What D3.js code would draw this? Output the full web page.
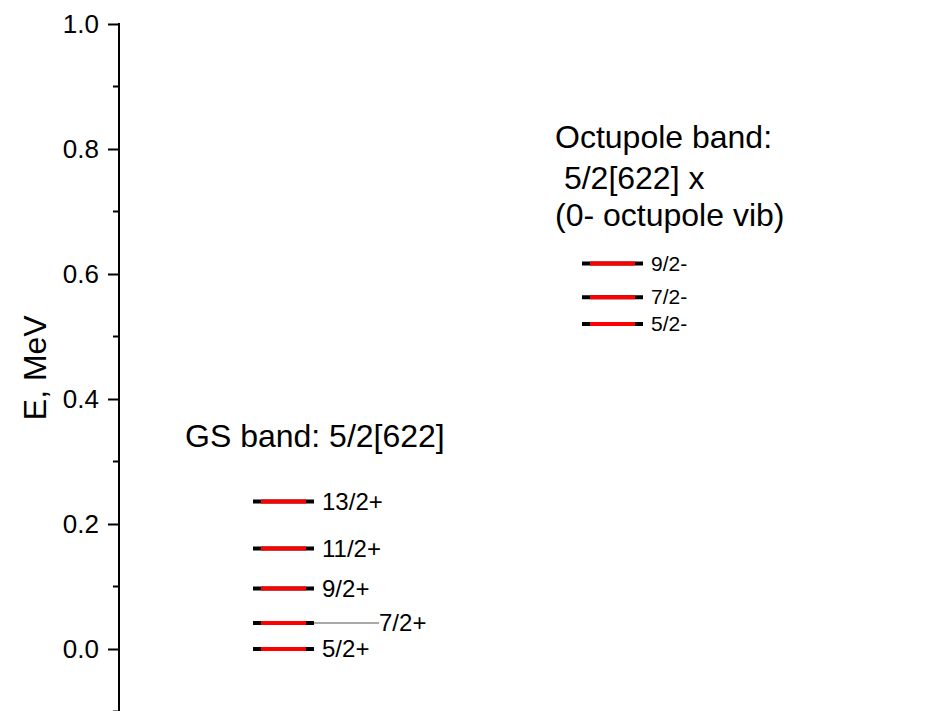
<!DOCTYPE html>
<html>
<head>
<meta charset="utf-8">
<script src="https://cdn.jsdelivr.net/npm/d3@7/dist/d3.min.js"></script>
<style>
  html, body { margin: 0; padding: 0; background: #fff; }
  svg { display: block; }
  text { font-family: "Liberation Sans", Arial, sans-serif; fill: #000; }
</style>
</head>
<body>
<svg id="chart" width="932" height="711"></svg>
<script>
// ---- data ----
const gsLabels = ["5/2+", "7/2+", "9/2+", "11/2+", "13/2+"];
const gsEnergies = [0.0, 0.0416, 0.097, 0.161, 0.236];
const octLabels = ["5/2-", "7/2-", "9/2-"];
const octEnergies = [0.52, 0.563, 0.617];
const bandNames = ["GS", "Octupole"];
const bandPositions = [1, 2.5];
const yTicks = [0.0, 0.2, 0.4, 0.6, 0.8, 1.0];
const yMinorTicks = [-0.1, 0.1, 0.3, 0.5, 0.7, 0.9];
const gsTitle = ["GS band: 5/2[622]"];
const octTitle = ["Octupole band:", "\u00a05/2[622] x", "(0- octupole vib)"];
const yTitle = "E, MeV";

// ---- scales ----
const svg = d3.select("#chart");
const y = d3.scaleLinear().domain([-0.1, 1.0]).range([711.5, 24]);
const x = d3.scaleLinear().domain([0, 4]).range([64.2, 941.5]);
const axisX = 119;

// ---- axis ----
const axis = d3.axisLeft(y).tickValues(yTicks).tickFormat(d3.format(".1f"))
  .tickSizeInner(11).tickSizeOuter(0).tickPadding(9);
const gAxis = svg.append("g").attr("transform", `translate(${axisX},0)`).call(axis);
gAxis.select(".domain").remove();
gAxis.append("line").attr("x1", 0).attr("x2", 0).attr("y1", y(1.0) - 1).attr("y2", 711)
  .attr("stroke", "#000").attr("stroke-width", 2);
gAxis.selectAll(".tick line").attr("stroke", "#000").attr("stroke-width", 2);
gAxis.selectAll(".tick text").attr("font-size", 26)
  .style("font-family", "'Liberation Sans', Arial, sans-serif").attr("fill", "#000");
gAxis.selectAll(".minor").data(yMinorTicks).enter().append("line")
  .attr("class", "minor")
  .attr("x1", -6).attr("x2", 0).attr("y1", d => y(d)).attr("y2", d => y(d))
  .attr("stroke", "#000").attr("stroke-width", 2);

svg.append("text")
  .attr("transform", `translate(46,${(y(0.4)+y(0.5))/2})rotate(-90)`)
  .attr("text-anchor", "middle").attr("font-size", 32).text(yTitle);

// ---- levels ----
const halfW = 30.5, capW = 8;
function drawBand(labels, energies, bx, cls) {
  const cx = x(bx);
  const g = svg.append("g").attr("class", cls);
  const lv = g.selectAll("g.level").data(energies.map((e, i) => ({e, l: labels[i]})))
    .enter().append("g").attr("class", "level");
  lv.append("line").attr("x1", cx - halfW).attr("x2", cx + halfW)
    .attr("y1", d => y(d.e)).attr("y2", d => y(d.e))
    .attr("stroke", "#000").attr("stroke-width", 4);
  lv.append("line").attr("x1", cx - halfW + capW).attr("x2", cx + halfW - capW)
    .attr("y1", d => y(d.e)).attr("y2", d => y(d.e))
    .attr("stroke", "#ff0000").attr("stroke-width", 4);
  return {g, lv, cx};
}

const gs = drawBand(gsLabels, gsEnergies, bandPositions[0], "gs");
gs.lv.each(function(d) {
  const sel = d3.select(this);
  let lx = gs.cx + halfW + 8;
  if (d.l === "7/2+") {
    sel.append("line").attr("x1", gs.cx + halfW).attr("x2", gs.cx + halfW + 65)
      .attr("y1", y(d.e)).attr("y2", y(d.e)).attr("stroke", "#555").attr("stroke-width", 1);
    lx = gs.cx + halfW + 65;
  }
  sel.append("text").attr("x", lx).attr("y", y(d.e)).attr("dy", "0.35em")
    .attr("font-size", 24).text(d.l);
});

const oct = drawBand(octLabels, octEnergies, bandPositions[1], "oct");
oct.lv.append("text").attr("x", oct.cx + halfW + 8).attr("y", d => y(d.e)).attr("dy", "0.35em")
  .attr("font-size", 21).text(d => d.l);

// ---- band titles ----
svg.append("text").attr("x", 185).attr("y", 447).attr("font-size", 32).text(gsTitle[0]);
svg.selectAll("text.octTitle").data(octTitle).enter().append("text")
  .attr("class", "octTitle").attr("x", 555).attr("y", (d, i) => [148, 189, 226][i])
  .attr("font-size", 32).text(d => d);
</script>
</body>
</html>
